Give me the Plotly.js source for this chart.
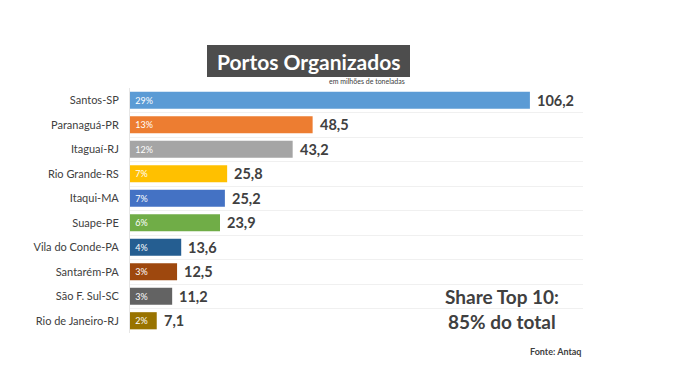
<!DOCTYPE html>
<html><head><meta charset="utf-8">
<script src="https://cdn.plot.ly/plotly-3.0.1.min.js"></script>
<style>body{margin:0;background:#fff}#c{width:692px;height:370px}</style>
</head><body><div id="c"></div>
<script>
const categories = ["Santos-SP","Paranaguá-PR","Itaguaí-RJ","Rio Grande-RS","Itaqui-MA","Suape-PE","Vila do Conde-PA","Santarém-PA","São F. Sul-SC","Rio de Janeiro-RJ"];
const values = [106.2, 48.5, 43.2, 25.8, 25.2, 23.9, 13.6, 12.5, 11.2, 7.1];
const shares = ["29%","13%","12%","7%","7%","6%","4%","3%","3%","2%"];
const valueLabels = ["106,2","48,5","43,2","25,8","25,2","23,9","13,6","12,5","11,2","7,1"];
const colors = ["#5B9BD5","#ED7D31","#A5A5A5","#FFC000","#4472C4","#70AD47","#255E91","#9E480E","#636363","#997300"];
const FONT = "Lato, 'Open Sans', sans-serif";

const bars = {
  type: "bar", orientation: "h", y: categories, x: values,
  marker: {color: colors, line: {width: 0}},
  width: 0.7,
  text: shares.map(s => "\u00a0" + s), textposition: "inside", insidetextanchor: "start",
  textfont: {family: FONT, size: 9, color: "#ffffff"},
  hoverinfo: "none", cliponaxis: false
};

const valueAnnotations = values.map((v, i) => ({
  x: v, y: categories[i], xref: "x", yref: "y",
  text: "<b>" + valueLabels[i] + "</b>", showarrow: false,
  xanchor: "left", yanchor: "middle", xshift: 5,
  font: {family: FONT, size: 14.5, color: "#404040"}
}));

const layout = {
  width: 692, height: 370,
  margin: {l: 130, r: 109, t: 88, b: 37},
  paper_bgcolor: "#fff", plot_bgcolor: "#fff",
  showlegend: false,
  xaxis: {range: [0, 120.3], visible: false, fixedrange: true},
  yaxis: {
    type: "category", autorange: "reversed",
    tickson: "boundaries", showgrid: true, gridcolor: "#f0f0f0", gridwidth: 1,
    ticks: "", ticklen: 0, showline: true, linecolor: "#e6e6e6", linewidth: 1,
    tickfont: {family: FONT, size: 11, color: "#404040"},
    zeroline: false, ticklabelstandoff: 8
  },
  shapes: [
    {type: "rect", xref: "paper", yref: "paper", x0: (207-130)/453, x1: (410-130)/453,
     y0: (370-37-77)/245, y1: (370-37-45)/245, fillcolor: "#4d4d4d", line: {width: 0}, layer: "above"}
  ],
  annotations: valueAnnotations.concat([
    {text: "<b>Portos Organizados</b>", xref: "paper", yref: "paper",
     x: (308.5-130)/453, y: (370-37-61)/245, xanchor: "center", yanchor: "middle",
     showarrow: false, font: {family: FONT, size: 21, color: "#ffffff"}},
    {text: "em milhões de toneladas", xref: "paper", yref: "paper",
     x: (407-130)/453, y: (370-37-81)/245, xanchor: "right", yanchor: "middle",
     showarrow: false, font: {family: FONT, size: 7, color: "#404040"}},
    {text: "<b>Share Top 10:</b>", xref: "paper", yref: "paper",
     x: (502-130)/453, y: (370-37-296)/245, xanchor: "center", yanchor: "middle",
     showarrow: false, font: {family: FONT, size: 19, color: "#404040"}},
    {text: "<b>85% do total</b>", xref: "paper", yref: "paper",
     x: (502-130)/453, y: (370-37-321)/245, xanchor: "center", yanchor: "middle",
     showarrow: false, font: {family: FONT, size: 19, color: "#404040"}},
    {text: "<b>Fonte: Antaq</b>", xref: "paper", yref: "paper",
     x: (583-130)/453, y: (370-37-351)/245, xanchor: "right", yanchor: "middle",
     showarrow: false, font: {family: FONT, size: 9, color: "#404040"}}
  ])
};
Plotly.newPlot("c", [bars], layout, {staticPlot: true, displayModeBar: false});
</script></body></html>
